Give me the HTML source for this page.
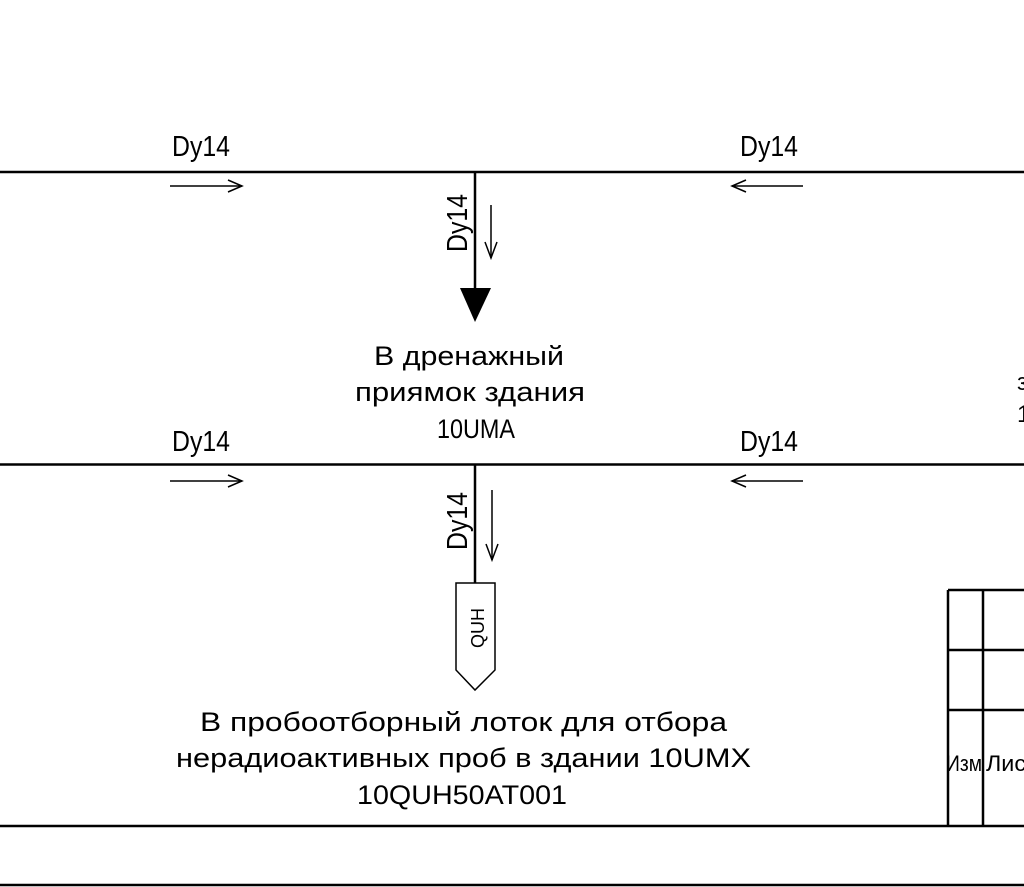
<!DOCTYPE html>
<html><head><meta charset="utf-8"><style>
html,body{margin:0;padding:0;background:#fff;}
svg{display:block;}
text{font-family:"Liberation Sans","DejaVu Sans",sans-serif;font-size:27px;fill:#000;}
.d{font-size:29px;}
</style></head><body>
<svg width="1024" height="887" viewBox="0 0 1024 887" xmlns="http://www.w3.org/2000/svg">
<g stroke="#000" fill="none">
<line x1="0" y1="172" x2="1024" y2="172" stroke-width="2.5"/>
<line x1="0" y1="464.5" x2="1024" y2="464.5" stroke-width="2.5"/>
<line x1="0" y1="826" x2="1024" y2="826" stroke-width="2.5"/>
<line x1="0" y1="885" x2="1024" y2="885" stroke-width="2.5"/>
<line x1="475" y1="172" x2="475" y2="292" stroke-width="2.5"/>
<line x1="475" y1="464" x2="475" y2="583" stroke-width="2.5"/>
<path d="M456,583 H495 V670 L475,690 L456,670 Z" stroke-width="1.5"/>
<g stroke-width="1.5">
<line x1="170" y1="186" x2="242" y2="186"/><path d="M228,180 L242,186 L228,192"/>
<line x1="732" y1="186" x2="803" y2="186"/><path d="M746,180 L732,186 L746,192"/>
<line x1="170" y1="481" x2="242" y2="481"/><path d="M228,475 L242,481 L228,487"/>
<line x1="732" y1="481" x2="803" y2="481"/><path d="M746,475 L732,481 L746,487"/>
<line x1="491" y1="205" x2="491" y2="258"/><path d="M485,242 L491,258 L497,242"/>
<line x1="492" y1="490" x2="492" y2="560"/><path d="M486,544 L492,560 L498,544"/>
</g>
<g stroke-width="2.5">
<line x1="948" y1="590" x2="948" y2="826"/>
<line x1="983" y1="590" x2="983" y2="826"/>
<line x1="948" y1="590" x2="1024" y2="590"/>
<line x1="948" y1="650" x2="1024" y2="650"/>
<line x1="948" y1="710" x2="1024" y2="710"/>
</g>
</g>
<path d="M460,288 H491 L475,322 Z" fill="#000"/>
<text class="d" x="172" y="156" textLength="58" lengthAdjust="spacingAndGlyphs">Dy14</text>
<text class="d" x="740" y="156" textLength="58" lengthAdjust="spacingAndGlyphs">Dy14</text>
<text class="d" x="172" y="451" textLength="58" lengthAdjust="spacingAndGlyphs">Dy14</text>
<text class="d" x="740" y="451" textLength="58" lengthAdjust="spacingAndGlyphs">Dy14</text>
<text class="d" transform="translate(467,252) rotate(-90)" textLength="58" lengthAdjust="spacingAndGlyphs">Dy14</text>
<text class="d" transform="translate(467,550) rotate(-90)" textLength="58" lengthAdjust="spacingAndGlyphs">Dy14</text>
<text transform="translate(484,648) rotate(-90)" style="font-size:18px" textLength="40" lengthAdjust="spacingAndGlyphs">QUH</text>
<text x="374" y="365" textLength="190" lengthAdjust="spacingAndGlyphs">В дренажный</text>
<text x="355" y="401" textLength="230" lengthAdjust="spacingAndGlyphs">приямок здания</text>
<text x="437" y="438" textLength="78" lengthAdjust="spacingAndGlyphs">10UMA</text>
<text x="200" y="731" textLength="527" lengthAdjust="spacingAndGlyphs">В пробоотборный лоток для отбора</text>
<text x="176" y="767" textLength="575" lengthAdjust="spacingAndGlyphs">нерадиоактивных проб в здании 10UMX</text>
<text x="357" y="804" textLength="210" lengthAdjust="spacingAndGlyphs">10QUH50AT001</text>
<text x="946" y="771" style="font-size:22px" textLength="36" lengthAdjust="spacingAndGlyphs">Изм</text>
<text x="986" y="771" style="font-size:22px" textLength="40" lengthAdjust="spacingAndGlyphs">Лис</text>
<text x="1017" y="390" style="font-size:24px">з</text>
<text x="1017" y="422" style="font-size:24px">1</text>
</svg>
</body></html>
